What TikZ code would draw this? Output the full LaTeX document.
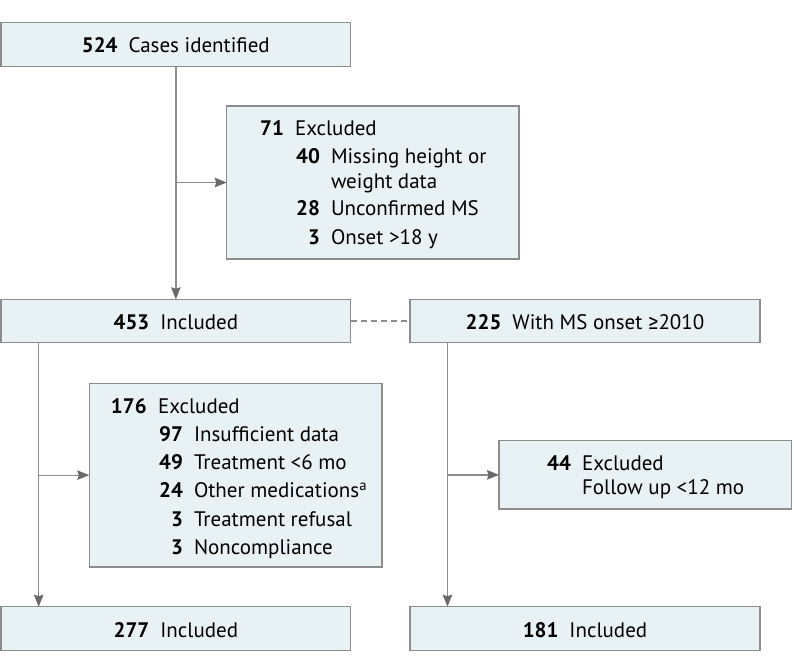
\documentclass[tikz,border=0pt]{standalone}
\usepackage{fontspec}
\setmainfont{PT Sans}
\newfontfamily\symfont{Fira Sans}
\usepackage{array}
\usetikzlibrary{arrows.meta}
\definecolor{boxfill}{HTML}{E8F2F4}
\definecolor{boxline}{HTML}{8C8C8C}
\definecolor{conline}{HTML}{8C8C8C}
\definecolor{tipgray}{HTML}{6A6A6A}
\newcolumntype{R}[1]{>{\raggedleft\arraybackslash}p{#1}}
\tikzset{
  box/.style={draw=boxline, fill=boxfill, line width=1.2pt, inner sep=0pt, outer sep=0pt},
  onebox/.style={box, text height=17pt, text depth=0pt, font=\fontsize{21}{24}\selectfont},
  txt/.style={inner sep=0pt, outer sep=0pt, anchor=base west, font=\fontsize{21}{24}\selectfont},
  conn/.style={draw=conline, line width=1.3pt},
  arr/.style={conn, -{Stealth[length=12pt,width=9.5pt,inset=1.5pt,color=tipgray]}},
  dashconn/.style={draw=conline, line width=1.2pt, dash pattern=on 6pt off 4pt}
}
\begin{document}
\begin{tikzpicture}[x=1pt,y=-1pt]
\useasboundingbox (0,0) rectangle (794,671);
% single-line boxes
\node[onebox, minimum width=349.7pt, minimum height=44pt] (top) at (175.85,44.3) {\textbf{524}\hspace{11pt}Cases identified};
\node[onebox, minimum width=349.7pt, minimum height=43.4pt] (inc1) at (175.85,321) {\textbf{453}\hspace{11pt}Included};
\node[onebox, minimum width=350pt, minimum height=43.4pt] (onset) at (585,321) {\textbf{225}\hspace{11pt}With MS onset {\symfont ≥}2010};
\node[onebox, minimum width=349.7pt, minimum height=44pt] (inc2) at (175.85,628.7) {\textbf{277}\hspace{11pt}Included};
\node[onebox, minimum width=350pt, minimum height=44pt] (inc3) at (585,628.7) {\textbf{181}\hspace{11pt}Included};
% exclusion boxes
\node[box, minimum width=292.3pt, minimum height=153pt] (ex1) at (372.85,182.5) {};
\node[box, minimum width=292.7pt, minimum height=183.7pt] (ex2) at (235.65,475.15) {};
\node[box, minimum width=292.7pt, minimum height=68.3pt] (ex3) at (645.35,474.85) {};
% exclusion texts
\node[txt] (ex1t) at (244,136) {\begin{tabular}[t]{@{}R{40pt}@{\hspace{11pt}}R{25pt}@{\hspace{11pt}}l@{}}
\textbf{71} & \multicolumn{2}{@{}l@{}}{Excluded}\\[4pt]
 & \textbf{40} & Missing height or\\
 & & weight data\\[4pt]
 & \textbf{28} & Unconfirmed MS\\[4pt]
 & \textbf{3} & Onset >18 y
\end{tabular}};
\node[txt] (ex2t) at (106.7,413.3) {\begin{tabular}[t]{@{}R{40pt}@{\hspace{11.3pt}}R{25pt}@{\hspace{11pt}}l@{}}
\textbf{176} & \multicolumn{2}{@{}l@{}}{Excluded}\\[4.2pt]
 & \textbf{97} & Insufficient data\\[4.2pt]
 & \textbf{49} & Treatment <6 mo\\[4.2pt]
 & \textbf{24} & Other medications\textsuperscript{a}\\[4.2pt]
 & \textbf{3} & Treatment refusal\\[4.2pt]
 & \textbf{3} & Noncompliance
\end{tabular}};
\node[txt] (ex3t) at (531,470) {\begin{tabular}[t]{@{}R{40pt}@{\hspace{11pt}}l@{}}
\textbf{44} & Excluded\\
 & Follow up <12 mo
\end{tabular}};
% connectors
\draw[arr] (top.south) -- (inc1.north);
\draw[arr] (ex1.west -| top.south) -- (ex1.west);
\coordinate (lx) at ([xshift=37.7pt]inc1.south west);
\coordinate (rx) at ([xshift=37.5pt]onset.south west);
\draw[arr] (lx) -- (inc2.north -| lx);
\draw[arr] (ex2.west -| lx) -- (ex2.west);
\draw[arr] (rx) -- (inc3.north -| rx);
\draw[arr] (ex3.west -| rx) -- (ex3.west);
\draw[dashconn] (inc1.east) -- (onset.west);
\end{tikzpicture}
\end{document}
